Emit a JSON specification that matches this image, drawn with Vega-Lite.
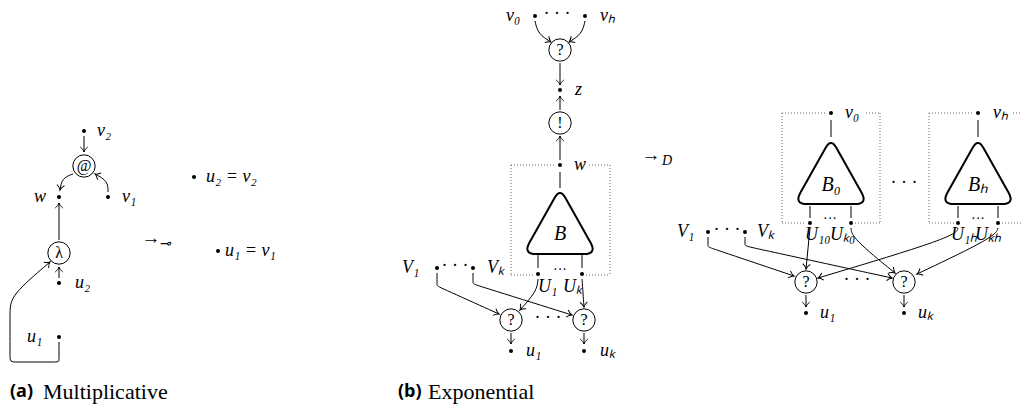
{
"$schema":"https://vega.github.io/schema/vega-lite/v6.json",
"width":1022,"height":412,"padding":0,"autosize":{"type":"none"},
"background":"white",
"config":{"view":{"stroke":null}},
"datasets":{
"box":[
{"x":511,"y":165,"x2":511,"y2":275},{"x":610,"y":165,"x2":610,"y2":275},{"x":511,"y":165,"x2":556,"y2":165},{"x":589,"y":165,"x2":610,"y2":165},{"x":511,"y":275,"x2":535,"y2":275},{"x":586,"y":275,"x2":610,"y2":275},
{"x":782,"y":113,"x2":782,"y2":223},{"x":880,"y":113,"x2":880,"y2":223},{"x":782,"y":113,"x2":827,"y2":113},{"x":866,"y":113,"x2":880,"y2":113},{"x":782,"y":223,"x2":806,"y2":223},{"x":855,"y":223,"x2":880,"y2":223},
{"x":929,"y":113,"x2":929,"y2":223},{"x":929,"y":113,"x2":973,"y2":113},{"x":1013,"y":113,"x2":1022,"y2":113},{"x":929,"y":223,"x2":954,"y2":223},{"x":1002,"y":223,"x2":1022,"y2":223}
],
"edges":[
{"e":1,"o":0,"x":84,"y":136},{"e":1,"o":1,"x":84,"y":152},
{"e":2,"o":0,"x":73,"y":174},{"e":2,"o":1,"x":62,"y":178},{"e":2,"o":2,"x":60,"y":190},
{"e":3,"o":0,"x":108,"y":192},{"e":3,"o":1,"x":108,"y":181},{"e":3,"o":2,"x":95,"y":174},
{"e":4,"o":0,"x":59,"y":240},{"e":4,"o":1,"x":59,"y":203},
{"e":5,"o":0,"x":59,"y":278},{"e":5,"o":1,"x":59,"y":267},
{"e":6,"o":0,"x":59,"y":342},{"e":6,"o":1,"x":59,"y":362},{"e":6,"o":2,"x":59,"y":362},{"e":6,"o":3,"x":10,"y":362},{"e":6,"o":4,"x":10,"y":362},{"e":6,"o":5,"x":10,"y":312},{"e":6,"o":6,"x":10,"y":296},{"e":6,"o":7,"x":50,"y":262},
{"e":7,"o":0,"x":535,"y":21},{"e":7,"o":1,"x":538,"y":34},{"e":7,"o":2,"x":551,"y":42},
{"e":8,"o":0,"x":585,"y":21},{"e":8,"o":1,"x":582,"y":34},{"e":8,"o":2,"x":569,"y":42},
{"e":9,"o":0,"x":560,"y":63},{"e":9,"o":1,"x":560,"y":85},
{"e":10,"o":0,"x":560,"y":110},{"e":10,"o":1,"x":560,"y":96},
{"e":11,"o":0,"x":560,"y":160},{"e":11,"o":1,"x":560,"y":136},
{"e":12,"o":0,"x":560,"y":172},{"e":12,"o":1,"x":560,"y":188},
{"e":13,"o":0,"x":538,"y":255},{"e":13,"o":1,"x":538,"y":268},
{"e":14,"o":0,"x":582,"y":255},{"e":14,"o":1,"x":582,"y":268},
{"e":15,"o":0,"x":437,"y":273},{"e":15,"o":1,"x":437,"y":286},{"e":15,"o":2,"x":437,"y":286},{"e":15,"o":3,"x":499,"y":314},
{"e":16,"o":0,"x":473,"y":273},{"e":16,"o":1,"x":473,"y":284},{"e":16,"o":2,"x":473,"y":284},{"e":16,"o":3,"x":572,"y":315},
{"e":17,"o":0,"x":538,"y":279},{"e":17,"o":1,"x":537,"y":291},{"e":17,"o":2,"x":520,"y":310},
{"e":18,"o":0,"x":582,"y":279},{"e":18,"o":1,"x":583,"y":293},{"e":18,"o":2,"x":584,"y":307},
{"e":19,"o":0,"x":511,"y":333},{"e":19,"o":1,"x":511,"y":344},
{"e":20,"o":0,"x":584,"y":333},{"e":20,"o":1,"x":584,"y":344},
{"e":21,"o":0,"x":831,"y":120},{"e":21,"o":1,"x":831,"y":137},
{"e":22,"o":0,"x":978,"y":120},{"e":22,"o":1,"x":978,"y":137},
{"e":23,"o":0,"x":810,"y":206},{"e":23,"o":1,"x":810,"y":218},
{"e":24,"o":0,"x":851,"y":206},{"e":24,"o":1,"x":851,"y":218},
{"e":25,"o":0,"x":958,"y":206},{"e":25,"o":1,"x":958,"y":218},
{"e":26,"o":0,"x":998,"y":206},{"e":26,"o":1,"x":998,"y":218},
{"e":27,"o":0,"x":708,"y":237},{"e":27,"o":1,"x":708,"y":247},{"e":27,"o":2,"x":708,"y":247},{"e":27,"o":3,"x":794,"y":276},
{"e":28,"o":0,"x":745,"y":237},{"e":28,"o":1,"x":745,"y":246},{"e":28,"o":2,"x":745,"y":246},{"e":28,"o":3,"x":892,"y":278},
{"e":29,"o":0,"x":810,"y":228},{"e":29,"o":1,"x":806,"y":269},
{"e":30,"o":0,"x":851,"y":228},{"e":30,"o":1,"x":852,"y":238},{"e":30,"o":2,"x":895,"y":273},
{"e":31,"o":0,"x":958,"y":228},{"e":31,"o":1,"x":955,"y":237},{"e":31,"o":2,"x":818,"y":278},
{"e":32,"o":0,"x":998,"y":228},{"e":32,"o":1,"x":995,"y":237},{"e":32,"o":2,"x":917,"y":274},
{"e":33,"o":0,"x":806,"y":295},{"e":33,"o":1,"x":806,"y":307},
{"e":34,"o":0,"x":904,"y":295},{"e":34,"o":1,"x":904,"y":307}
],
"heads":[
{"x":84,"y":152,"dir":90},{"x":60,"y":190,"dir":99},{"x":95,"y":174,"dir":208},{"x":59,"y":203,"dir":270},{"x":59,"y":267,"dir":270},{"x":50,"y":262,"dir":320},
{"x":551,"y":42,"dir":32},{"x":569,"y":42,"dir":148},{"x":560,"y":85,"dir":90},{"x":560,"y":96,"dir":270},{"x":560,"y":136,"dir":270},
{"x":499,"y":314,"dir":24},{"x":572,"y":315,"dir":17},{"x":520,"y":310,"dir":132},{"x":584,"y":307,"dir":86},{"x":511,"y":344,"dir":90},{"x":584,"y":344,"dir":90},
{"x":794,"y":276,"dir":19},{"x":892,"y":278,"dir":12},{"x":806,"y":269,"dir":96},{"x":895,"y":273,"dir":39},{"x":818,"y":278,"dir":163},{"x":917,"y":274,"dir":155},{"x":806,"y":307,"dir":90},{"x":904,"y":307,"dir":90}
],
"dots":[
{"x":84,"y":131},{"x":59,"y":197},{"x":108,"y":197},{"x":59,"y":283},{"x":59,"y":337},{"x":194,"y":177},{"x":218,"y":251},
{"x":535,"y":16},{"x":585,"y":16},{"x":560,"y":90},{"x":560,"y":165},{"x":538,"y":274},{"x":582,"y":274},{"x":437,"y":268},{"x":473,"y":268},{"x":511,"y":351},{"x":584,"y":351},
{"x":831,"y":113},{"x":978,"y":113},{"x":810,"y":223},{"x":851,"y":223},{"x":958,"y":223},{"x":998,"y":223},{"x":708,"y":232},{"x":745,"y":232},{"x":806,"y":313},{"x":904,"y":313}
],
"nodes":[
{"x":84,"y":166,"s":"@"},{"x":59,"y":253,"s":"λ"},{"x":560,"y":50,"s":"?"},{"x":560,"y":123,"s":"!"},{"x":511,"y":320,"s":"?"},{"x":584,"y":320,"s":"?"},{"x":806,"y":282,"s":"?"},{"x":904,"y":282,"s":"?"}
],
"tris":[
{"x":560,"y":224,"ly":234,"t":"B"},{"x":831,"y":174,"ly":185,"t":"B₀"},{"x":978,"y":174,"ly":185,"t":"Bₕ"}
],
"labels":[
{"x":97,"y":131,"t":"v₂"},{"x":34,"y":197,"t":"w"},{"x":122,"y":197,"t":"v₁"},{"x":75,"y":283,"t":"u₂"},{"x":27,"y":337,"t":"u₁"},{"x":206,"y":177,"t":"u₂ = v₂"},{"x":225,"y":251,"t":"u₁ = v₁"},
{"x":506,"y":16,"t":"v₀"},{"x":600,"y":16,"t":"vₕ"},{"x":575,"y":90,"t":"z"},{"x":574,"y":165,"t":"w"},{"x":402,"y":268,"t":"V₁"},{"x":487,"y":268,"t":"Vₖ"},{"x":538,"y":287,"t":"U₁"},{"x":563,"y":287,"t":"Uₖ"},{"x":526,"y":351,"t":"u₁"},{"x":600,"y":351,"t":"uₖ"},
{"x":845,"y":113,"t":"v₀"},{"x":993,"y":113,"t":"vₕ"},{"x":677,"y":232,"t":"V₁"},{"x":757,"y":232,"t":"Vₖ"},{"x":805,"y":235,"t":"U₁₀"},{"x":830,"y":235,"t":"Uₖ₀"},{"x":951,"y":235,"t":"U₁ₕ"},{"x":975,"y":235,"t":"Uₖₕ"},{"x":820,"y":313,"t":"u₁"},{"x":918,"y":313,"t":"uₖ"}
],
"ell":[{"x":557,"y":14},{"x":455,"y":266},{"x":548,"y":318},{"x":727,"y":230},{"x":857,"y":280},{"x":904,"y":183}],
"sell":[{"x":560,"y":270},{"x":830,"y":219},{"x":978,"y":219}],
"rel":[{"x":151,"y":238,"t":"→"},{"x":651,"y":155,"t":"→"}],
"relsub":[{"x":159,"y":244,"t":"⊸"},{"x":662,"y":161,"t":"D"}],
"capb":[{"x":10,"y":392,"t":"(a)"},{"x":398,"y":392,"t":"(b)"}],
"capt":[{"x":43,"y":392,"t":"Multiplicative"},{"x":428,"y":392,"t":"Exponential"}]
},
"layer":[
{"data":{"name":"box"},"mark":{"type":"rule","strokeDash":[1,2],"color":"#666","strokeWidth":1},
 "encoding":{"x":{"field":"x","type":"quantitative","scale":{"domain":[0,1022],"nice":false,"zero":false},"axis":null},
  "y":{"field":"y","type":"quantitative","scale":{"domain":[0,412],"nice":false,"zero":false,"reverse":true},"axis":null},
  "x2":{"field":"x2"},"y2":{"field":"y2"}}},
{"data":{"name":"edges"},"mark":{"type":"line","interpolate":"basis","color":"black","strokeWidth":1},
 "encoding":{"x":{"field":"x","type":"quantitative"},"y":{"field":"y","type":"quantitative"},"detail":{"field":"e","type":"nominal"},"order":{"field":"o","type":"quantitative"}}},
{"data":{"name":"heads"},"mark":{"type":"point","shape":"M-1,-0.75 C-0.65,-0.35 -0.3,-0.08 0,0 C-0.3,0.08 -0.65,0.35 -1,0.75","filled":false,"color":"black","strokeWidth":1,"size":100,"opacity":1},
 "encoding":{"x":{"field":"x","type":"quantitative"},"y":{"field":"y","type":"quantitative"},"angle":{"field":"dir","type":"quantitative","scale":null}}},
{"data":{"name":"dots"},"mark":{"type":"circle","color":"black","size":16,"opacity":1},
 "encoding":{"x":{"field":"x","type":"quantitative"},"y":{"field":"y","type":"quantitative"}}},
{"data":{"name":"nodes"},"mark":{"type":"point","shape":"circle","filled":true,"fill":"white","stroke":"black","strokeWidth":1,"size":500,"opacity":1},
 "encoding":{"x":{"field":"x","type":"quantitative"},"y":{"field":"y","type":"quantitative"}}},
{"data":{"name":"nodes"},"mark":{"type":"text","font":"Liberation Serif","fontSize":16,"color":"black","align":"center","baseline":"middle"},
 "encoding":{"x":{"field":"x","type":"quantitative"},"y":{"field":"y","type":"quantitative"},"text":{"field":"s"}}},
{"data":{"name":"tris"},"mark":{"type":"point","shape":"M0.162,-0.792 L0.924,0.561 Q1.12,0.91 0.72,0.91 L-0.72,0.91 Q-1.12,0.91 -0.924,0.561 L-0.162,-0.792 Q0,-1.08 0.162,-0.792 Z","filled":false,"stroke":"black","strokeWidth":2,"size":4356,"opacity":1},
 "encoding":{"x":{"field":"x","type":"quantitative"},"y":{"field":"y","type":"quantitative"}}},
{"data":{"name":"tris"},"mark":{"type":"text","font":"Liberation Serif","fontStyle":"italic","fontSize":20,"color":"black","align":"center","baseline":"middle"},
 "encoding":{"x":{"field":"x","type":"quantitative"},"y":{"field":"ly","type":"quantitative"},"text":{"field":"t"}}},
{"data":{"name":"labels"},"mark":{"type":"text","font":"Liberation Serif","fontStyle":"italic","fontSize":18,"color":"black","align":"left","baseline":"middle"},
 "encoding":{"x":{"field":"x","type":"quantitative"},"y":{"field":"y","type":"quantitative"},"text":{"field":"t"}}},
{"data":{"name":"ell"},"mark":{"type":"text","font":"Liberation Serif","fontSize":18,"color":"black","align":"center","baseline":"middle","text":"· · ·"},
 "encoding":{"x":{"field":"x","type":"quantitative"},"y":{"field":"y","type":"quantitative"}}},
{"data":{"name":"sell"},"mark":{"type":"text","font":"Liberation Serif","fontSize":14,"color":"black","align":"center","baseline":"middle","text":"···"},
 "encoding":{"x":{"field":"x","type":"quantitative"},"y":{"field":"y","type":"quantitative"}}},
{"data":{"name":"rel"},"mark":{"type":"text","font":"Liberation Serif","fontSize":19,"color":"black","align":"center","baseline":"middle"},
 "encoding":{"x":{"field":"x","type":"quantitative"},"y":{"field":"y","type":"quantitative"},"text":{"field":"t"}}},
{"data":{"name":"relsub"},"mark":{"type":"text","font":"Liberation Serif","fontStyle":"italic","fontSize":14,"color":"black","align":"left","baseline":"middle"},
 "encoding":{"x":{"field":"x","type":"quantitative"},"y":{"field":"y","type":"quantitative"},"text":{"field":"t"}}},
{"data":{"name":"capb"},"mark":{"type":"text","font":"Open Sans","fontWeight":"bold","fontSize":18,"color":"black","align":"left","baseline":"middle"},
 "encoding":{"x":{"field":"x","type":"quantitative"},"y":{"field":"y","type":"quantitative"},"text":{"field":"t"}}},
{"data":{"name":"capt"},"mark":{"type":"text","font":"Liberation Serif","fontSize":22,"color":"black","align":"left","baseline":"middle"},
 "encoding":{"x":{"field":"x","type":"quantitative"},"y":{"field":"y","type":"quantitative"},"text":{"field":"t"}}}
]
}
